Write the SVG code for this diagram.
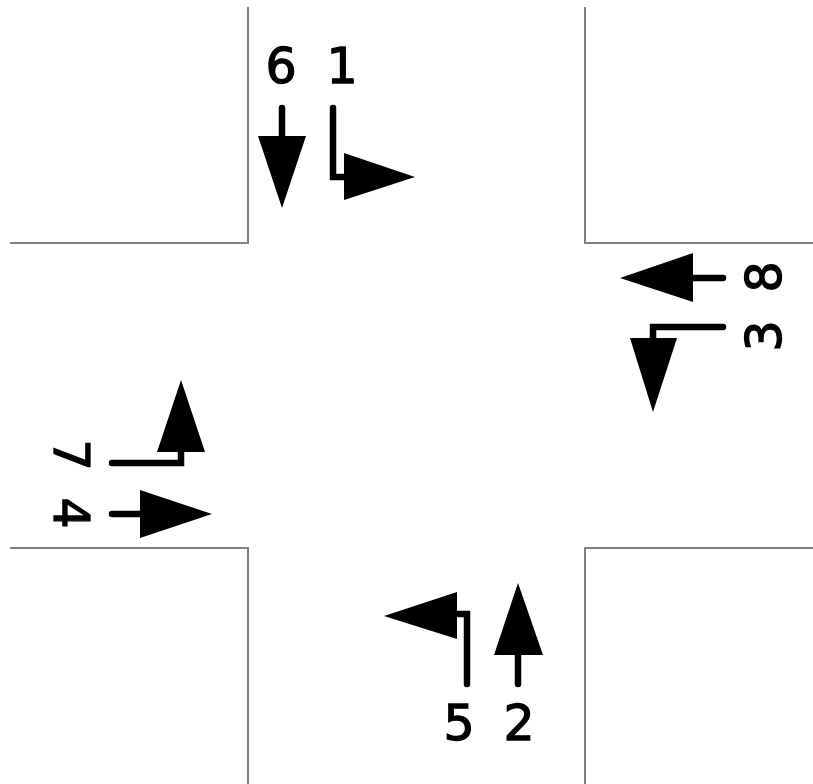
<svg xmlns="http://www.w3.org/2000/svg" width="813" height="784" viewBox="0 0 813 784">
<style>
.road{fill:none;stroke:#808080;stroke-width:2}
.shaft{fill:none;stroke:#000;stroke-width:6.5;stroke-linecap:round;stroke-linejoin:miter}
.head{fill:#000;stroke:none}
.lbl{font-family:"DejaVu Sans",sans-serif;font-size:49px;fill:#000;stroke:#000;stroke-width:1.3;text-anchor:middle}
</style>
<rect width="813" height="784" fill="#fff"/>
<g id="roads">
<polyline class="road" points="248,7 248,243 10,243"/>
<polyline class="road" points="585,7 585,243 813,243"/>
<polyline class="road" points="10,548 248,548 248,784"/>
<polyline class="road" points="585,784 585,548 813,548"/>
</g>
<g id="connectors">
<g id="arrow6"><polyline class="shaft" points="282,108 282,138"/><polygon class="head" points="258,136 306,136 282,208"/></g>
<g id="arrow1"><polyline class="shaft" points="333,108 333,177 346,177"/><polygon class="head" points="344,153 344,200 415,177"/></g>
<g id="arrow8"><polyline class="shaft" points="723,278 690,278"/><polygon class="head" points="693,253 693,302 620,278"/></g>
<g id="arrow3"><polyline class="shaft" points="723,327 653,327 653,340"/><polygon class="head" points="630,338 677,338 653,412"/></g>
<g id="arrow7"><polyline class="shaft" points="112,463 181,463 181,450"/><polygon class="head" points="157,452 205,452 181,380"/></g>
<g id="arrow4"><polyline class="shaft" points="112,514 143,514"/><polygon class="head" points="140,490 140,538 212,514"/></g>
<g id="arrow5"><polyline class="shaft" points="467,684 467,614 455,614"/><polygon class="head" points="457,592 457,639 384,616"/></g>
<g id="arrow2"><polyline class="shaft" points="518,684 518,652"/><polygon class="head" points="494,655 543,655 518,583"/></g>
</g>
<g id="label6"><text class="lbl" x="281" y="83">6</text></g>
<g id="label1"><text class="lbl" x="342" y="83">1</text></g>
<g id="label5"><text class="lbl" x="459" y="740">5</text></g>
<g id="label2"><text class="lbl" x="519" y="740">2</text></g>
<g id="label8"><text class="lbl" transform="translate(781,277) rotate(-90)">8</text></g>
<g id="label3"><text class="lbl" transform="translate(781,336) rotate(-90)">3</text></g>
<g id="label7"><text class="lbl" transform="translate(54,455) rotate(90)">7</text></g>
<g id="label4"><text class="lbl" transform="translate(54,513) rotate(90)">4</text></g>
</svg>
